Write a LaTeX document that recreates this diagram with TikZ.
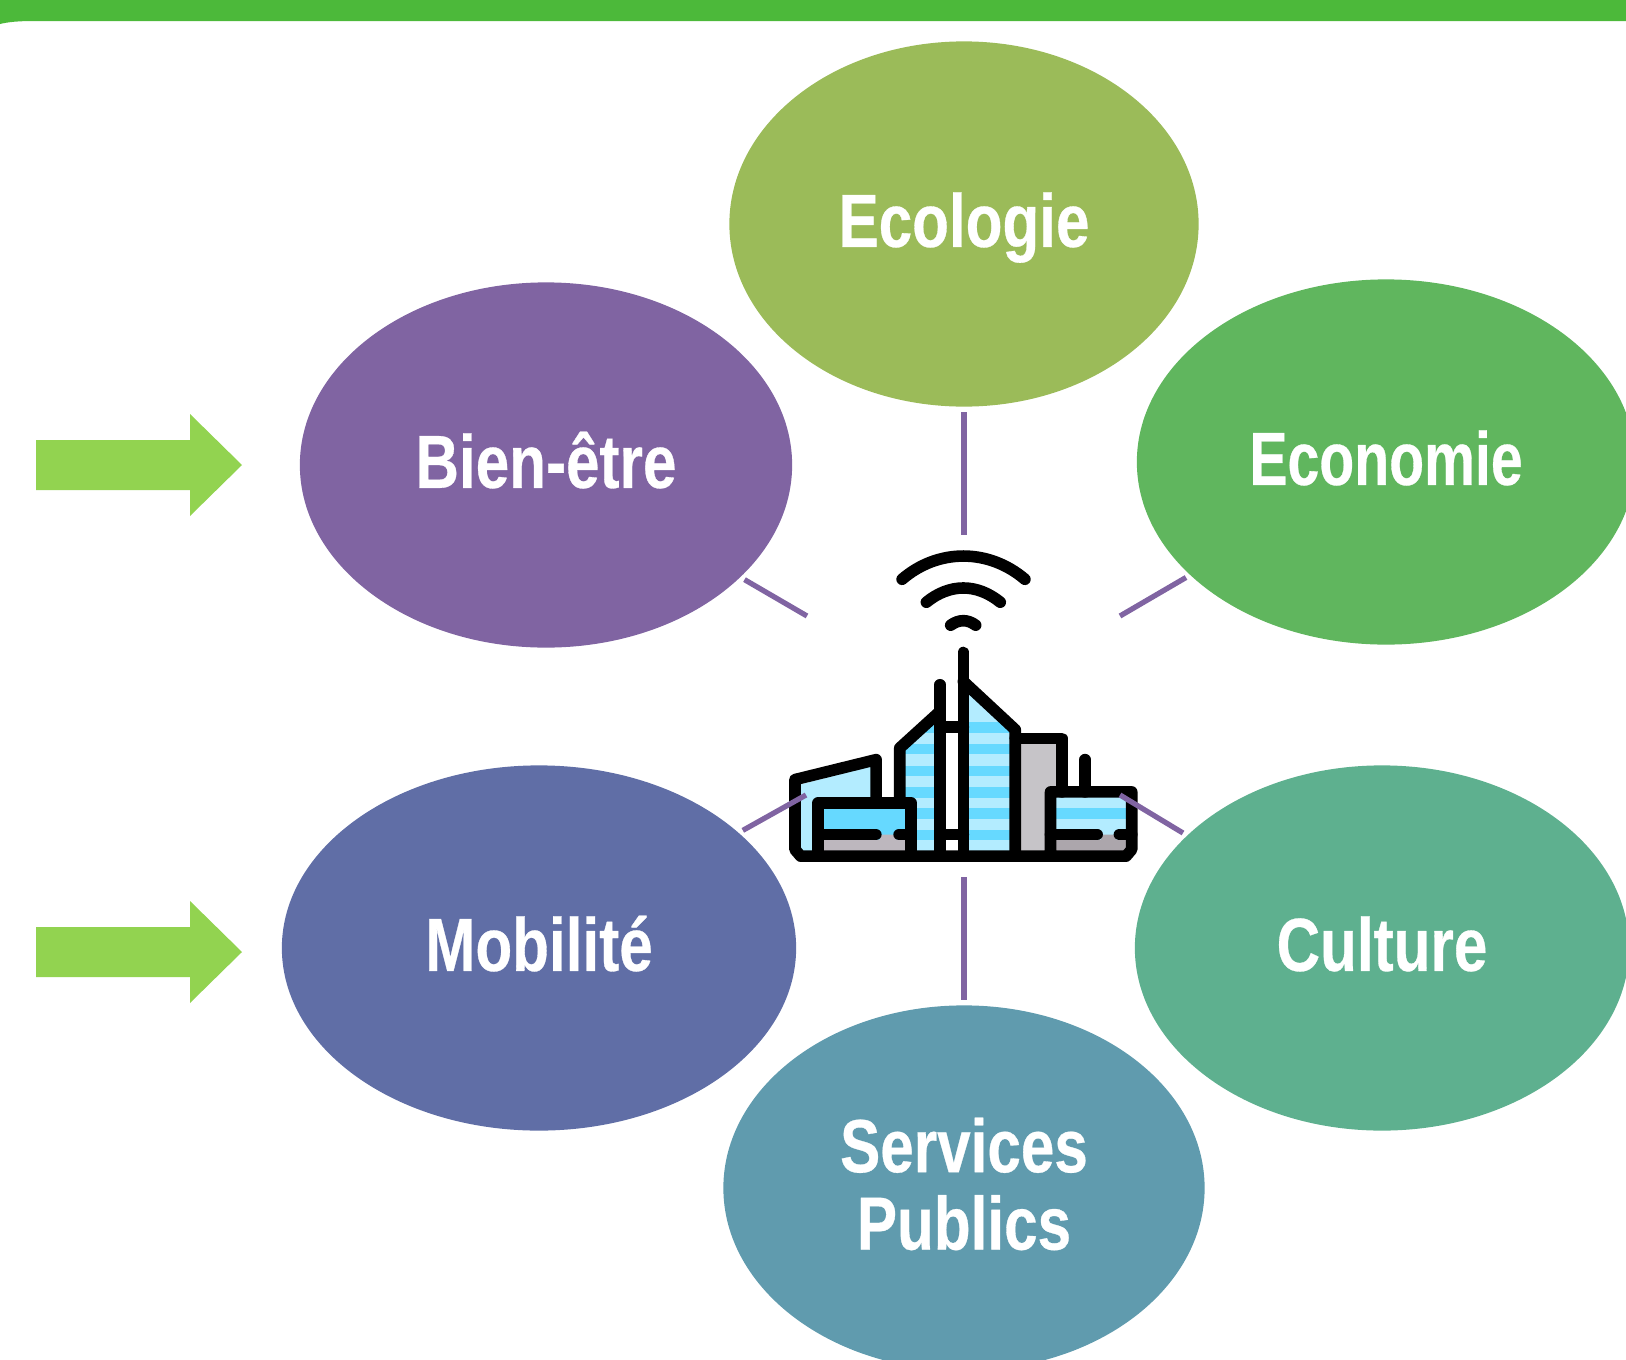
\documentclass[tikz,border=0pt]{standalone}
\usepackage{fontspec}
\usetikzlibrary{shapes.geometric}
\newfontfamily\bubblefont{Liberation Sans}[FakeStretch=0.8,BoldFeatures={FakeBold=0.4}]
\definecolor{barGreen}{HTML}{4CB93A}
\definecolor{arrowGreen}{HTML}{92D350}
\definecolor{spokePurple}{HTML}{8064A2}
\definecolor{ecoGreen}{HTML}{9BBB59}
\definecolor{wellPurple}{HTML}{8064A2}
\definecolor{econGreen}{HTML}{60B65E}
\definecolor{mobBlue}{HTML}{606EA6}
\definecolor{cultGreen}{HTML}{5EB08F}
\definecolor{servBlue}{HTML}{609BAE}
\definecolor{glassLight}{HTML}{B3ECFF}
\definecolor{glassMid}{HTML}{66D9FF}
\definecolor{wallGrey}{HTML}{C6C4C8}
\definecolor{roadGrey}{HTML}{BDB7BE}
\definecolor{roadDark}{HTML}{ACA6AC}
\tikzset{
  bubble/.style n args={3}{ellipse, fill=#1, minimum width=#2cm, minimum height=#3cm, inner sep=0pt,
    text=white, align=center, text height=16.6pt, text depth=3.6pt,
    font=\bubblefont\bfseries\fontsize{21.4}{22}\selectfont},
  spoke/.style={draw=spokePurple, line width=1.5pt},
  inkline/.style={draw=black, line width=3.3pt, line cap=round, line join=round}
}
\begin{document}
\begin{tikzpicture}[x=0.01cm, y=-0.01cm]
    \useasboundingbox (0,0) rectangle (1626,1360);
    \clip (0,0) rectangle (1626,1360);
    % top bar
    \fill[barGreen] (0,0) -- (1626,0) -- (1626,21) -- (35,21) .. controls (18,21) and (8,22) .. (0,24) -- cycle;
    % bubbles
    \node[bubble={ecoGreen}{4.69}{3.65}] (ecologie) at (964,224) {Ecologie};
    \node[bubble={wellPurple}{4.92}{3.65}] (bienetre) at (546,465) {Bien-être};
    \node[bubble={econGreen}{4.98}{3.65}] (economie) at (1386,462) {\scalebox{0.95}[1]{Economie}};
    \node[bubble={mobBlue}{5.14}{3.65}] (mobilite) at (539,948) {Mobilité};
    \node[bubble={cultGreen}{4.94}{3.65}] (culture) at (1382,948) {Culture};
    \node[bubble={servBlue}{4.81}{3.65}, text height=38.6pt] (services) at (964,1188) {Services\\Publics};
    % arrows
    \foreach \y in {465,952} {
      \fill[arrowGreen] (36,\y-25) -- (190,\y-25) -- (190,\y-51) -- (242,\y) -- (190,\y+51) -- (190,\y+25) -- (36,\y+25) -- cycle;
    }
    % city icon
    \begin{scope}[shift={(760,530)}, x=0.003333cm, y=-0.003333cm]
      \fill[glassLight] (120,765) -- (333,710) -- (333,830) -- (160,830) -- (160,965) -- (120,965) -- cycle;
      \fill[wallGrey] (783,640) rectangle (890,965);
      \fill[glassLight] (888,802) rectangle (1100,965);
      \fill[glassMid] (888,835) rectangle (1100,868);
      \fill[roadDark] (888,930) -- (1025,930) -- (1030,915) -- (1070,915) -- (1070,930) -- (1100,930) -- (1100,965) -- (888,965) -- cycle;
      \begin{scope}
        \clip (626,485) -- (751,600) -- (751,965) -- (626,965) -- cycle;
        \fill[glassLight] (626,485) rectangle (751,965);
        \foreach \s in {577,642,708,772,836,900} \fill[glassMid] (626,\s) rectangle (751,\s+32);
      \end{scope}
      \begin{scope}
        \clip (525,575) -- (436,662) -- (436,965) -- (525,965) -- cycle;
        \fill[glassLight] (436,575) rectangle (525,965);
        \foreach \s in {577,642,708,772,836,900} \fill[glassMid] (436,\s) rectangle (525,\s+32);
      \end{scope}
      \fill[glassMid] (190,835) rectangle (438,965);
      \fill[roadGrey] (190,930) -- (360,930) -- (365,915) -- (410,915) -- (410,930) -- (438,930) -- (438,965) -- (190,965) -- cycle;
      % outlines
      \draw[inkline] (427,148) .. controls (535,55) and (687,55) .. (796,148); % wifi
      \draw[inkline] (500,217) .. controls (570,160) and (652,160) .. (722,217);
      \draw[inkline] (573,286) .. controls (598,268) and (624,268) .. (648,286);
      \draw[inkline] (611,368) -- (611,980);
      \draw[inkline] (541,465) -- (541,980);
      \draw[inkline] (541,592) -- (611,592);
      \draw[inkline] (541,915) -- (611,915);
      \draw[inkline] (611,455) -- (767,600) -- (767,980);
      \draw[inkline] (541,545) -- (420,655) -- (420,820);
      \draw[inkline] (767,626) -- (907,626) -- (907,787);
      \draw[inkline] (349,820) -- (349,690) -- (105,750) -- (105,960) -- (122,980) -- (1100,980) -- (1117,960) -- (1117,787) -- (873,787) -- (873,980);
      \draw[inkline] (175,980) -- (175,820) -- (454,820) -- (454,980);
      \draw[inkline] (977,690) -- (977,787);
      \draw[inkline] (175,915) -- (348,915);
      \draw[inkline] (418,915) -- (454,915);
      \draw[inkline] (873,915) -- (1013,915);
      \draw[inkline] (1080,915) -- (1117,915);
    \end{scope}
    % spokes
    \coordinate (hubN) at (964,535);
    \coordinate (hubNW) at (807,616);
    \coordinate (hubNE) at (1120,616);
    \coordinate (hubSW) at (806,795);
    \coordinate (hubSE) at (1120,795);
    \coordinate (hubS) at (964,877);
    \draw[spoke, shorten <=1.4pt] (ecologie.south) -- (hubN);
    \draw[spoke, shorten <=1.2pt] (bienetre.-30) -- (hubNW);
    \draw[spoke, shorten <=1.2pt] (economie.210) -- (hubNE);
    \draw[spoke, shorten <=1.2pt] (mobilite.30) -- (hubSW);
    \draw[spoke, shorten <=1.2pt] (culture.150) -- (hubSE);
    \draw[spoke, shorten <=1.4pt] (services.north) -- (hubS);
  \end{tikzpicture}
\end{document}
